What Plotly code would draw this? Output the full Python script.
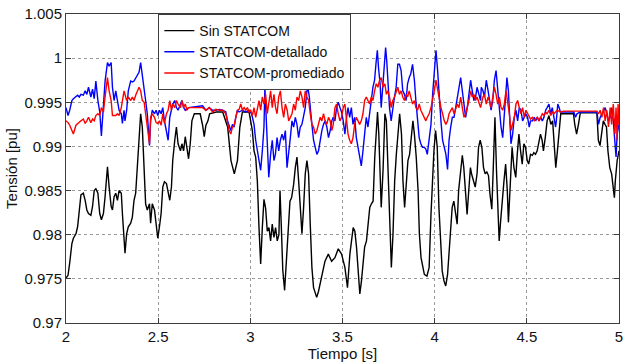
import plotly.graph_objects as go

# ---- time stamps shared by the three series at the start (s) ----
t_early = [2.000, 2.011, 2.020, 2.032, 2.040, 2.054, 2.063, 2.072, 2.081, 2.094,
           2.104, 2.113, 2.122, 2.135, 2.144, 2.153, 2.162, 2.173, 2.183, 2.192,
           2.203, 2.212, 2.225, 2.234, 2.245, 2.252, 2.261, 2.270, 2.279, 2.288,
           2.300, 2.306, 2.315, 2.320, 2.329, 2.338, 2.351, 2.360, 2.369, 2.378,
           2.387, 2.396, 2.405, 2.414, 2.424, 2.432, 2.441, 2.453, 2.459, 2.468,
           2.480, 2.489, 2.498, 2.507, 2.516, 2.525, 2.534, 2.545, 2.554, 2.563,
           2.572, 2.579, 2.590, 2.599, 2.608, 2.621, 2.629, 2.638, 2.647, 2.656,
           2.665]

# ---- Sin STATCOM (black) ----
t_sin_rest = [2.674, 2.683, 2.696, 2.710, 2.728, 2.741, 2.750, 2.759, 2.770, 2.779,
              2.815, 2.850, 2.877, 2.895, 2.913, 2.930, 2.943, 2.957, 2.993, 3.011,
              3.020, 3.029, 3.038, 3.047, 3.056, 3.065, 3.074, 3.083, 3.092, 3.101,
              3.110, 3.119, 3.128, 3.137, 3.146, 3.155, 3.161, 3.168, 3.176, 3.186,
              3.195, 3.205, 3.215, 3.224, 3.235, 3.244, 3.253, 3.262, 3.271, 3.280,
              3.289, 3.298, 3.307, 3.316, 3.325, 3.334, 3.343, 3.352, 3.360, 3.370,
              3.388, 3.405, 3.423, 3.441, 3.459, 3.477, 3.495,
              3.513, 3.527, 3.540, 3.558, 3.567, 3.576, 3.585, 3.594, 3.603, 3.612,
              3.620, 3.630, 3.640, 3.648, 3.657, 3.666, 3.675, 3.684, 3.690, 3.697,
              3.705, 3.710, 3.720, 3.730, 3.738, 3.747, 3.756, 3.765, 3.774, 3.783,
              3.792, 3.800, 3.810, 3.820, 3.828, 3.837, 3.846, 3.855, 3.864, 3.873,
              3.882, 3.890, 3.900, 3.910, 3.917, 3.926, 3.935, 3.944, 3.958, 3.970,
              3.980, 3.990, 3.996, 4.005, 4.014, 4.023, 4.032, 4.041, 4.050, 4.060,
              4.070, 4.078, 4.086, 4.095, 4.104, 4.113, 4.122, 4.130, 4.140, 4.150,
              4.158, 4.167, 4.176, 4.185, 4.194, 4.200, 4.210, 4.220, 4.230, 4.238,
              4.247,
              4.256, 4.265, 4.274, 4.283, 4.292, 4.300, 4.310, 4.318, 4.327, 4.336,
              4.345, 4.350, 4.358, 4.367, 4.376, 4.385, 4.394, 4.400, 4.410, 4.420,
              4.430, 4.440, 4.448, 4.457, 4.466, 4.475, 4.484, 4.493, 4.502, 4.510,
              4.520, 4.530, 4.538, 4.547, 4.556, 4.565, 4.574, 4.583, 4.590, 4.600,
              4.610, 4.620, 4.630, 4.640, 4.648, 4.657, 4.666, 4.675, 4.684, 4.700,
              4.753, 4.760, 4.770, 4.780, 4.790, 4.880, 4.888, 4.897, 4.906, 4.915,
              4.924, 4.932, 4.940, 4.950, 4.960, 4.968, 4.975, 4.980, 4.990, 5.000]

v_sin = [0.9751, 0.9754, 0.9768, 0.9790, 0.9796, 0.9801, 0.9809, 0.9832, 0.9845, 0.9847,
         0.9839, 0.9828, 0.9824, 0.9822, 0.9832, 0.9850, 0.9852, 0.9847, 0.9824, 0.9817,
         0.9824, 0.9843, 0.9877, 0.9854, 0.9832, 0.9828, 0.9843, 0.9847, 0.9839, 0.9850,
         0.9847, 0.9824, 0.9794, 0.9779, 0.9801, 0.9809, 0.9813, 0.9820, 0.9839, 0.9847,
         0.9877, 0.9907, 0.9937, 0.9922, 0.9877, 0.9835, 0.9828, 0.9835, 0.9813, 0.9835,
         0.9828, 0.9809, 0.9796, 0.9809, 0.9824, 0.9854, 0.9860, 0.9858, 0.9847, 0.9839,
         0.9854, 0.9884, 0.9907, 0.9922, 0.9903, 0.9895, 0.9903, 0.9895, 0.9911, 0.9899,
         0.9886,
         0.9903, 0.9929, 0.9937, 0.9937, 0.9937, 0.9924, 0.9911, 0.9924, 0.9929, 0.9937,
         0.9939, 0.9939, 0.9922, 0.9884, 0.9869, 0.9884, 0.9922, 0.9939, 0.9939, 0.9918,
         0.9895, 0.9888, 0.9861, 0.9808, 0.9767, 0.9808, 0.9840, 0.9830, 0.9804, 0.9808,
         0.9793, 0.9812, 0.9797, 0.9808, 0.9793, 0.9800, 0.9850, 0.9810, 0.9760, 0.9737,
         0.9770, 0.9815, 0.9838, 0.9842, 0.9857, 0.9876, 0.9888, 0.9861, 0.9823, 0.9801,
         0.9831, 0.9869, 0.9884, 0.9869, 0.9812, 0.9763, 0.9740, 0.9733, 0.9729, 0.9736,
         0.9755, 0.9770, 0.9778, 0.9770, 0.9774, 0.9784, 0.9778,
         0.9763, 0.9740, 0.9778, 0.9808, 0.9804, 0.9786, 0.9755, 0.9733, 0.9748, 0.9774,
         0.9786, 0.9793, 0.9812, 0.9831, 0.9835, 0.9838, 0.9888, 0.9922, 0.9939, 0.9914,
         0.9861, 0.9831, 0.9873, 0.9937, 0.9929, 0.9869, 0.9812, 0.9763, 0.9801, 0.9861,
         0.9891, 0.9914, 0.9937, 0.9914, 0.9861, 0.9831, 0.9861, 0.9884, 0.9891, 0.9907,
         0.9929, 0.9914, 0.9888, 0.9850, 0.9801, 0.9774, 0.9763, 0.9755, 0.9753, 0.9763,
         0.9823, 0.9869, 0.9895, 0.9918, 0.9899, 0.9831, 0.9786, 0.9759, 0.9748, 0.9742,
         0.9755, 0.9778, 0.9808, 0.9831, 0.9838, 0.9827, 0.9812, 0.9850, 0.9869, 0.9890,
         0.9876, 0.9850, 0.9823, 0.9850, 0.9876, 0.9869, 0.9861, 0.9854, 0.9869, 0.9899,
         0.9907,
         0.9899, 0.9876, 0.9869, 0.9871, 0.9867, 0.9846, 0.9829, 0.9876, 0.9933, 0.9869,
         0.9816, 0.9793, 0.9816, 0.9842, 0.9861, 0.9880, 0.9850, 0.9814, 0.9861, 0.9899,
         0.9876, 0.9865, 0.9891, 0.9914, 0.9895, 0.9880, 0.9903, 0.9899, 0.9884, 0.9880,
         0.9891, 0.9890, 0.9893, 0.9891, 0.9895, 0.9907, 0.9914, 0.9907, 0.9895, 0.9910,
         0.9929, 0.9935, 0.9925, 0.9929, 0.9899, 0.9876, 0.9895, 0.9922, 0.9937, 0.9937,
         0.9937, 0.9925, 0.9914, 0.9925, 0.9938, 0.9938, 0.9907, 0.9901, 0.9918, 0.9929,
         0.9925, 0.9922, 0.9895, 0.9876, 0.9869, 0.9857, 0.9842, 0.9861, 0.9884, 0.9895]

# ---- STATCOM-detallado (blue) ----
t_det_rest = [2.741, 2.759, 2.777, 2.795, 2.813, 2.831, 2.850, 2.867, 2.876, 2.885,
              2.894, 2.903, 2.912, 2.921, 2.930, 2.939, 2.957, 2.975, 2.993, 3.007,
              3.020, 3.029, 3.038, 3.047, 3.056, 3.065, 3.074, 3.079, 3.086, 3.093,
              3.100, 3.110, 3.119, 3.128, 3.136, 3.145, 3.154, 3.163, 3.172, 3.181,
              3.190, 3.199, 3.208, 3.217, 3.226, 3.235, 3.244, 3.253, 3.262, 3.271,
              3.280, 3.289, 3.298, 3.307, 3.312, 3.320, 3.327, 3.334, 3.343, 3.352,
              3.361, 3.370, 3.379, 3.388, 3.397, 3.406, 3.415, 3.424, 3.433, 3.442,
              3.450, 3.459, 3.468, 3.477, 3.486, 3.495,
              3.504, 3.513, 3.522, 3.530, 3.539, 3.548, 3.557, 3.566, 3.575, 3.584,
              3.593, 3.602, 3.611, 3.620, 3.629, 3.638, 3.647, 3.656, 3.665, 3.674,
              3.683, 3.689, 3.695, 3.704, 3.710, 3.720, 3.730, 3.734, 3.740, 3.746,
              3.755, 3.764, 3.773, 3.782, 3.791, 3.800, 3.809, 3.818, 3.827, 3.836,
              3.845, 3.853, 3.862, 3.870, 3.880, 3.890, 3.898, 3.907, 3.916, 3.925,
              3.934, 3.943, 3.952, 3.960, 3.970, 3.980, 3.989, 3.998, 4.007, 4.016,
              4.025, 4.034, 4.043, 4.052, 4.061, 4.070, 4.078, 4.087, 4.096, 4.105,
              4.114, 4.123, 4.132, 4.141, 4.150, 4.159, 4.168, 4.177, 4.186, 4.195,
              4.204, 4.213, 4.222, 4.230, 4.240, 4.249,
              4.253, 4.262, 4.270, 4.280, 4.290, 4.297, 4.306, 4.315, 4.324, 4.333,
              4.342, 4.351, 4.360, 4.369, 4.378, 4.387, 4.392, 4.400, 4.408, 4.414,
              4.423, 4.432, 4.441, 4.450, 4.459, 4.468, 4.477, 4.486, 4.495, 4.504,
              4.513, 4.520, 4.530, 4.540, 4.548, 4.557, 4.566, 4.575, 4.584, 4.593,
              4.602, 4.610, 4.620, 4.630, 4.638, 4.647, 4.656, 4.660, 4.668, 4.675,
              4.682, 4.755, 4.764, 4.772, 4.790, 4.880, 4.889, 4.898, 4.907, 4.916,
              4.925, 4.934, 4.943, 4.952, 4.960, 4.969, 4.978, 4.984, 4.990, 5.000]

v_det = [0.9944, 0.9935, 0.9941, 0.9952, 0.9954, 0.9956, 0.9958, 0.9956, 0.9959, 0.9958,
         0.9963, 0.9959, 0.9967, 0.9956, 0.9965, 0.9954, 0.9974, 0.9952, 0.9939, 0.9912,
         0.9952, 0.9974, 0.9995, 0.9991, 0.9995, 0.9967, 0.9952, 0.9963, 0.9952, 0.9941,
         0.9937, 0.9926, 0.9941, 0.9929, 0.9941, 0.9963, 0.9974, 0.9973, 0.9974, 0.9978,
         0.9980, 0.9984, 0.9995, 0.9982, 0.9963, 0.9952, 0.9937, 0.9901, 0.9929, 0.9941,
         0.9937, 0.9941, 0.9935, 0.9941, 0.9937, 0.9944, 0.9929, 0.9918, 0.9907, 0.9933,
         0.9944, 0.9948, 0.9952, 0.9944, 0.9941, 0.9948, 0.9952, 0.9944, 0.9941, 0.9942,
         0.9944,
         0.9946, 0.9941, 0.9944, 0.9941, 0.9941, 0.9942, 0.9941, 0.9939, 0.9929, 0.9922,
         0.9918, 0.9925, 0.9922, 0.9933, 0.9941, 0.9939, 0.9941, 0.9939, 0.9941, 0.9937,
         0.9925, 0.9907, 0.9895, 0.9884, 0.9873, 0.9895, 0.9922, 0.9967, 0.9925, 0.9895,
         0.9865, 0.9891, 0.9907, 0.9884, 0.9891, 0.9910, 0.9895, 0.9907, 0.9914, 0.9907,
         0.9918, 0.9876, 0.9891, 0.9910, 0.9929, 0.9922, 0.9933, 0.9925, 0.9910, 0.9922,
         0.9925, 0.9933, 0.9944, 0.9963, 0.9967, 0.9956, 0.9937, 0.9925, 0.9907, 0.9899,
         0.9891, 0.9895, 0.9907, 0.9918, 0.9925, 0.9929, 0.9922, 0.9910, 0.9918, 0.9929,
         0.9933, 0.9929, 0.9944, 0.9950, 0.9944, 0.9939,
         0.9929, 0.9914, 0.9933, 0.9944, 0.9933, 0.9944, 0.9925, 0.9933, 0.9910, 0.9899,
         0.9891, 0.9878, 0.9895, 0.9914, 0.9933, 0.9922, 0.9941, 0.9952, 0.9967, 0.9975,
         0.9997, 1.0009, 0.9990, 0.9971, 0.9944, 0.9975, 0.9997, 1.0012, 0.9997, 0.9975,
         0.9944, 0.9929, 0.9944, 0.9956, 0.9967, 0.9993, 0.9993, 0.9986, 0.9963, 0.9959,
         0.9952, 0.9971, 0.9978, 0.9982, 0.9993, 0.9975, 0.9952, 0.9929, 0.9910, 0.9903,
         0.9899, 0.9899, 0.9897, 0.9891, 0.9907, 0.9925, 0.9959, 0.9982, 1.0009, 0.9986,
         0.9952, 0.9929, 0.9907, 0.9899, 0.9891, 0.9874, 0.9907, 0.9922, 0.9933, 0.9933,
         0.9944, 0.9956, 0.9963, 0.9978, 0.9963, 0.9944, 0.9933, 0.9944, 0.9963, 0.9975,
         0.9963, 0.9952, 0.9956, 0.9967, 0.9959, 0.9952,
         0.9967, 0.9963, 0.9956, 0.9975, 0.9963, 0.9952, 0.9941, 0.9952, 0.9975, 0.9986,
         0.9963, 0.9944, 0.9922, 0.9910, 0.9937, 0.9963, 0.9978, 0.9963, 0.9925, 0.9903,
         0.9914, 0.9933, 0.9941, 0.9929, 0.9944, 0.9941, 0.9929, 0.9933, 0.9937, 0.9933,
         0.9922, 0.9929, 0.9929, 0.9933, 0.9929, 0.9933, 0.9929, 0.9933, 0.9929, 0.9933,
         0.9941, 0.9944, 0.9948, 0.9937, 0.9944, 0.9933, 0.9922, 0.9929, 0.9948, 0.9944,
         0.9939, 0.9939, 0.9933, 0.9937, 0.9939, 0.9939, 0.9925, 0.9933, 0.9937, 0.9941,
         0.9944, 0.9937, 0.9929, 0.9933, 0.9944, 0.9929, 0.9907, 0.9888, 0.9914, 0.9925]

# ---- STATCOM-promediado (red) ----
t_prom_rest = [2.741, 2.759, 2.777, 2.795, 2.813, 2.831, 2.850, 2.867, 2.876, 2.885,
               2.894, 2.903, 2.912, 2.921, 2.930, 2.939, 2.948, 2.957, 2.966, 2.975,
               2.984, 2.993, 3.002, 3.011, 3.020, 3.029, 3.038, 3.047, 3.056, 3.065,
               3.074, 3.083, 3.092, 3.101, 3.110, 3.119, 3.128, 3.137, 3.145, 3.154,
               3.163, 3.172, 3.181, 3.190, 3.200, 3.208, 3.217, 3.226, 3.235, 3.244,
               3.253, 3.262, 3.271, 3.280, 3.289, 3.298, 3.307, 3.316, 3.325, 3.334,
               3.343, 3.352, 3.361, 3.370, 3.379, 3.388, 3.397, 3.406, 3.415, 3.424,
               3.433, 3.442, 3.450, 3.459, 3.468, 3.477, 3.486, 3.495,
               3.504, 3.513, 3.522, 3.530, 3.539, 3.548, 3.557, 3.566, 3.575, 3.584,
               3.593, 3.602, 3.611, 3.620, 3.629, 3.638, 3.647, 3.656, 3.665, 3.674,
               3.683, 3.692, 3.701, 3.710, 3.720, 3.730, 3.738, 3.746, 3.755, 3.764,
               3.773, 3.782, 3.791, 3.800, 3.809, 3.818, 3.827, 3.836, 3.845, 3.853,
               3.862, 3.870, 3.880, 3.890, 3.898, 3.907, 3.916, 3.925, 3.934, 3.943,
               3.952, 3.960, 3.970, 3.980, 3.989, 3.998, 4.007, 4.016, 4.025, 4.034,
               4.043, 4.052, 4.061, 4.070, 4.078, 4.087, 4.096, 4.105, 4.114, 4.123,
               4.132, 4.141, 4.150, 4.159, 4.168, 4.177, 4.186, 4.195, 4.204, 4.213,
               4.222, 4.230, 4.240, 4.249,
               4.253, 4.262, 4.270, 4.280, 4.290, 4.297, 4.306, 4.315, 4.324, 4.333,
               4.342, 4.351, 4.360, 4.369, 4.378, 4.387, 4.395, 4.405, 4.414, 4.423,
               4.432, 4.441, 4.450, 4.459, 4.468, 4.477, 4.486, 4.495, 4.504, 4.513,
               4.520, 4.530, 4.540, 4.548, 4.557, 4.566, 4.575, 4.584, 4.593, 4.602,
               4.610, 4.620, 4.630, 4.638, 4.647, 4.656, 4.665, 4.682, 4.700, 4.790,
               4.880, 4.889, 4.898, 4.907, 4.916, 4.925, 4.934, 4.943, 4.952, 4.960,
               4.969, 4.978, 4.984, 4.990, 4.995, 5.000]

v_prom = [0.9929, 0.9927, 0.9924, 0.9918, 0.9914, 0.9924, 0.9926, 0.9927, 0.9929, 0.9931,
          0.9926, 0.9929, 0.9933, 0.9927, 0.9931, 0.9929, 0.9935, 0.9937, 0.9935, 0.9944,
          0.9939, 0.9956, 0.9978, 0.9963, 0.9952, 0.9935, 0.9935, 0.9935, 0.9937, 0.9935,
          0.9944, 0.9952, 0.9963, 0.9959, 0.9952, 0.9956, 0.9952, 0.9956, 0.9952, 0.9958,
          0.9963, 0.9967, 0.9963, 0.9952, 0.9950, 0.9937, 0.9929, 0.9903, 0.9933, 0.9937,
          0.9933, 0.9927, 0.9926, 0.9929, 0.9924, 0.9937, 0.9926, 0.9937, 0.9941, 0.9952,
          0.9941, 0.9948, 0.9944, 0.9952, 0.9948, 0.9944, 0.9952, 0.9944, 0.9948, 0.9941,
          0.9944,
          0.9944, 0.9941, 0.9944, 0.9939, 0.9942, 0.9941, 0.9941, 0.9937, 0.9925, 0.9918,
          0.9914, 0.9922, 0.9924, 0.9933, 0.9941, 0.9942, 0.9948, 0.9941, 0.9944, 0.9941,
          0.9944, 0.9939, 0.9941, 0.9935, 0.9944, 0.9933, 0.9944, 0.9952, 0.9941, 0.9956,
          0.9948, 0.9959, 0.9937, 0.9948, 0.9963, 0.9944, 0.9959, 0.9944, 0.9937, 0.9956,
          0.9963, 0.9944, 0.9933, 0.9948, 0.9941, 0.9929, 0.9933, 0.9937, 0.9948, 0.9941,
          0.9956, 0.9952, 0.9963, 0.9956, 0.9944, 0.9963, 0.9956, 0.9952, 0.9937, 0.9925,
          0.9922, 0.9914, 0.9918, 0.9925, 0.9933, 0.9929, 0.9937, 0.9929, 0.9925, 0.9933,
          0.9929, 0.9918, 0.9925, 0.9944, 0.9948, 0.9937, 0.9929, 0.9933,
          0.9944, 0.9948, 0.9933, 0.9914, 0.9907, 0.9903, 0.9910, 0.9925, 0.9933, 0.9929,
          0.9925, 0.9929, 0.9937, 0.9952, 0.9956, 0.9952, 0.9948, 0.9956, 0.9952, 0.9963,
          0.9971, 0.9967, 0.9975, 0.9978, 0.9967, 0.9971, 0.9959, 0.9963, 0.9956, 0.9944,
          0.9952, 0.9956, 0.9963, 0.9967, 0.9959, 0.9963, 0.9956, 0.9952, 0.9959, 0.9956,
          0.9963, 0.9956, 0.9948, 0.9952, 0.9944, 0.9941, 0.9948, 0.9941, 0.9937, 0.9933,
          0.9929, 0.9933, 0.9937, 0.9944, 0.9952, 0.9963, 0.9975, 0.9963, 0.9952, 0.9944,
          0.9937, 0.9929, 0.9925, 0.9929, 0.9937, 0.9941, 0.9944, 0.9937, 0.9944, 0.9948,
          0.9944, 0.9956, 0.9944, 0.9933, 0.9937, 0.9944, 0.9952, 0.9963, 0.9956, 0.9959,
          0.9952, 0.9956, 0.9948, 0.9944,
          0.9948, 0.9956, 0.9959, 0.9948, 0.9956, 0.9952, 0.9944, 0.9956, 0.9967, 0.9959,
          0.9948, 0.9956, 0.9944, 0.9941, 0.9948, 0.9963, 0.9952, 0.9937, 0.9918, 0.9925,
          0.9933, 0.9948, 0.9952, 0.9944, 0.9937, 0.9944, 0.9933, 0.9941, 0.9937, 0.9933,
          0.9931, 0.9933, 0.9929, 0.9931, 0.9933, 0.9929, 0.9933, 0.9937, 0.9935, 0.9939,
          0.9937, 0.9941, 0.9935, 0.9939, 0.9937, 0.9939, 0.9941, 0.9939, 0.9940, 0.9940,
          0.9940, 0.9937, 0.9941, 0.9933, 0.9944, 0.9929, 0.9941, 0.9922, 0.9944, 0.9925,
          0.9948, 0.9914, 0.9944, 0.9907, 0.9948, 0.9925]

x_tick_vals = [2, 2.5, 3, 3.5, 4, 4.5, 5]
x_tick_text = ["2", "2.5", "3", "3.5", "4", "4.5", "5"]
y_tick_vals = [0.97, 0.975, 0.98, 0.985, 0.99, 0.995, 1.0, 1.005]
y_tick_text = ["0.97", "0.975", "0.98", "0.985", "0.99", "0.995", "1", "1.005"]

series = [
    ("Sin STATCOM", t_early + t_sin_rest, v_sin, "#000000"),
    ("STATCOM-detallado", t_early + t_det_rest, v_det, "#0000ff"),
    ("STATCOM-promediado", t_early + t_prom_rest, v_prom, "#ff0000"),
]

fig = go.Figure()
for name, t, v, c in series:
    fig.add_trace(go.Scatter(x=t, y=v, mode="lines", name=name,
                             line=dict(color=c, width=1.4)))

font_family = "Liberation Sans, Arial, Helvetica, sans-serif"
axis_common = dict(
    showline=True, linecolor="#3c3c3c", linewidth=1, mirror="ticks",
    ticks="inside", ticklen=5, tickcolor="#3c3c3c",
    showgrid=True, gridcolor="#9a9a9a", griddash="dot", gridwidth=1,
    zeroline=False, tickfont=dict(size=15, color="#111"),
    ticklabeloverflow="allow",
)
fig.update_layout(
    width=626, height=363,
    margin=dict(l=66, r=3, t=14, b=40),
    paper_bgcolor="white", plot_bgcolor="white",
    font=dict(family=font_family, size=15, color="#111"),
    xaxis=dict(range=[2, 5], tickvals=x_tick_vals, ticktext=x_tick_text,
               title=dict(text="Tiempo [s]", standoff=0, font=dict(size=15)),
               **axis_common),
    yaxis=dict(range=[0.97, 1.005], tickvals=y_tick_vals, ticktext=y_tick_text,
               title=dict(text="Tensión [pu]", standoff=3, font=dict(size=15)),
               **axis_common),
    showlegend=True,
    legend=dict(x=0.167, y=1.0, xanchor="left", yanchor="top",
                bgcolor="white", bordercolor="#3c3c3c", borderwidth=1,
                font=dict(size=14, color="#111"), tracegroupgap=0,
                itemwidth=30),
)
fig.write_html("out.html")
